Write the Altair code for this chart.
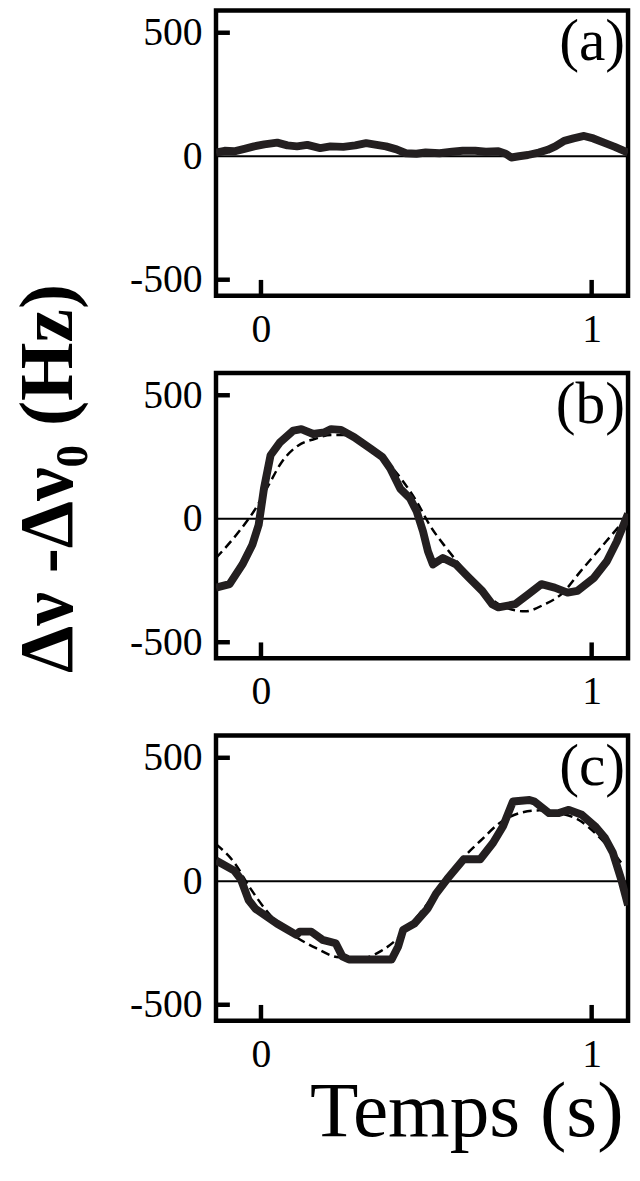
import altair as alt
import pandas as pd

# ---------------- data ----------------
# panel (a): measured signal
a_t = [-0.136, -0.110, -0.081, -0.050, -0.021, 0.010, 0.049, 0.080, 0.109, 0.140, 0.179,
       0.210, 0.249, 0.285, 0.318, 0.350, 0.378, 0.410, 0.438, 0.470, 0.498, 0.540,
       0.578, 0.610, 0.648, 0.680, 0.718, 0.740, 0.757, 0.780, 0.807, 0.840, 0.867,
       0.890, 0.917, 0.945, 0.977, 1.005, 1.037, 1.070, 1.110]
a_v = [15, 22, 20, 30, 40, 48, 55, 44, 40, 46, 33,
       40, 38, 44, 53, 46, 40, 28, 12, 10, 15, 12,
       18, 22, 22, 18, 20, 10, -5, 0, 5, 15, 26,
       40, 62, 72, 82, 72, 55, 38, 15]

# panel (b): measured signal and fit
b_t = [-0.136, -0.095, -0.056, -0.026, -0.007, 0.009, 0.029, 0.058, 0.098, 0.122, 0.158,
       0.192, 0.212, 0.242, 0.282, 0.332, 0.367, 0.391, 0.421, 0.451, 0.471, 0.490,
       0.505, 0.520, 0.550, 0.590, 0.629, 0.669, 0.699, 0.718, 0.769, 0.808, 0.848,
       0.888, 0.927, 0.957, 1.007, 1.046, 1.076, 1.110]
b_v = [-279, -265, -185, -105, -25, 122, 257, 310, 357, 363, 343,
       350, 363, 360, 330, 283, 250, 203, 122, 82, 29, -51,
       -132, -185, -159, -185, -239, -292, -346, -359, -346, -306, -265,
       -279, -299, -292, -239, -172, -92, 20]
b_fit_t = [-0.136, -0.066, -0.016, 0.023, 0.063, 0.113, 0.162, 0.212, 0.252, 0.312, 0.371,
           0.431, 0.471, 0.510, 0.560, 0.609, 0.669, 0.729, 0.798, 0.858, 0.908, 0.967,
           1.027, 1.096, 1.110]
b_fit_v = [-159, -51, 42, 136, 230, 297, 323, 339, 339, 303, 243,
           149, 69, -25, -118, -199, -292, -353, -375, -346, -306, -212,
           -118, -11, 10]

# panel (c): measured signal and fit
c_t = [-0.136, -0.081, -0.061, -0.037, -0.017, 0.048, 0.107, 0.117, 0.152, 0.186, 0.226,
       0.246, 0.266, 0.395, 0.415, 0.430, 0.464, 0.504, 0.529, 0.563, 0.613, 0.663,
       0.702, 0.732, 0.762, 0.812, 0.827, 0.871, 0.901, 0.931, 0.970, 1.010, 1.040,
       1.064, 1.089, 1.110]
c_v = [84, 43, 9, -77, -111, -171, -217, -204, -204, -237, -251,
       -304, -317, -317, -264, -197, -171, -111, -51, 9, 89, 89,
       156, 223, 323, 329, 323, 276, 276, 289, 269, 223, 176,
       116, 9, -97]
c_fit_t = [-0.136, -0.081, -0.031, 0.028, 0.097, 0.167, 0.236, 0.306, 0.365, 0.425, 0.484,
           0.544, 0.603, 0.663, 0.722, 0.782, 0.842, 0.901, 0.960, 1.020, 1.089]
c_fit_v = [150, 76, -31, -137, -217, -271, -308, -311, -281, -217, -124,
           -17, 83, 163, 236, 276, 287, 276, 249, 183, 76]

x_tick_values = [0, 1]
y_label_values = [-500, 0, 500]
y_tick_marks = [-500, 500]
zero_level = [0]
panel_labels = ["(a)", "(b)", "(c)"]
y_title = "Δν -Δν₀ (Hz)"
x_title = "Temps (s)"

# ---------------- styling ----------------
FONT = "Liberation Serif"
W, H = 416, 288
X_DOMAIN = [-0.136, 1.11]
Y_DOMAIN = [-565, 590]
INK = "#231f20"


def panel(m_t, m_v, f_t, f_v, label, y_axis_title=False, x_axis_title=False, lw=8):
    xs = alt.Scale(domain=X_DOMAIN, nice=False, zero=False)
    ys = alt.Scale(domain=Y_DOMAIN, nice=False, zero=False)

    x_axis_kw = dict(values=x_tick_values, ticks=False, tickSize=0, domain=False, grid=False,
                     labelFont=FONT, labelFontSize=40, labelColor="black", labelPadding=14,
                     labelFlush=False, labelExpr="datum.value")
    if x_axis_title:
        x_axis_kw.update(title=x_title, titleFont=FONT, titleFontSize=80, titleFontWeight="normal",
                         titleColor="black", titleAlign="right", titleBaseline="alphabetic",
                         titleX=W - 5, titleY=116)
    else:
        x_axis_kw.update(title=None)

    y_axis_kw = dict(values=y_label_values, ticks=False, tickSize=0, domain=False, grid=False,
                     labelFont=FONT, labelFontSize=40, labelColor="black", labelPadding=14,
                     labelFlush=False, labelExpr="datum.value")
    if y_axis_title:
        y_axis_kw.update(title=y_title, titleFont=FONT, titleFontSize=76, titleFontWeight="bold",
                         titleColor="black", titleAngle=270, titleAlign="center",
                         titleBaseline="alphabetic", titleX=-146, titleY=106)
    else:
        y_axis_kw.update(title=None)

    X = alt.X("t:Q", scale=xs, axis=alt.Axis(**x_axis_kw))
    Y = alt.Y("v:Q", scale=ys, axis=alt.Axis(**y_axis_kw))

    zero = alt.Chart(pd.DataFrame({"v": zero_level})).mark_rule(
        color="black", strokeWidth=2, strokeCap="butt"
    ).encode(y=Y, x=alt.value(0), x2=alt.value(W))

    layers = [zero]
    if f_t is not None:
        fit = alt.Chart(pd.DataFrame({"t": f_t, "v": f_v})).mark_line(
            color="black", strokeWidth=2.5, strokeDash=[9, 5], clip=True, interpolate="monotone",
            strokeJoin="round"
        ).encode(x=X, y=Y, order="t:Q")
        layers.append(fit)

    meas = alt.Chart(pd.DataFrame({"t": m_t, "v": m_v})).mark_line(
        color=INK, strokeWidth=lw, clip=True, strokeJoin="round"
    ).encode(x=X, y=Y, order="t:Q")
    layers.append(meas)

    xt = alt.Chart(pd.DataFrame({"t": x_tick_values})).mark_rule(
        color="black", strokeWidth=4.5, strokeCap="butt"
    ).encode(x=X, y=alt.value(H), y2=alt.value(H - 16))
    yt = alt.Chart(pd.DataFrame({"v": y_tick_marks})).mark_rule(
        color="black", strokeWidth=4.5, strokeCap="butt"
    ).encode(y=Y, x=alt.value(0), x2=alt.value(14))
    lab = alt.Chart(pd.DataFrame({"s": [label]})).mark_text(
        font=FONT, fontSize=60, align="right", baseline="alphabetic", color="black"
    ).encode(text="s:N", x=alt.value(W - 3), y=alt.value(50))
    layers += [xt, yt, lab]

    return alt.layer(*layers).properties(width=W, height=H)


pa = panel(a_t, a_v, None, None, panel_labels[0], lw=8)
pb = panel(b_t, b_v, b_fit_t, b_fit_v, panel_labels[1], y_axis_title=True)
pc = panel(c_t, c_v, c_fit_t, c_fit_v, panel_labels[2], x_axis_title=True)

chart = alt.vconcat(pa, pb, pc, spacing=78, bounds="flush").properties(
    padding={"left": 0, "top": -6, "right": 0, "bottom": 0},
    background="white",
).configure_view(stroke="black", strokeWidth=4.5, fill="white")

chart.save("out.html", embed_options={"renderer": "svg", "actions": False})
